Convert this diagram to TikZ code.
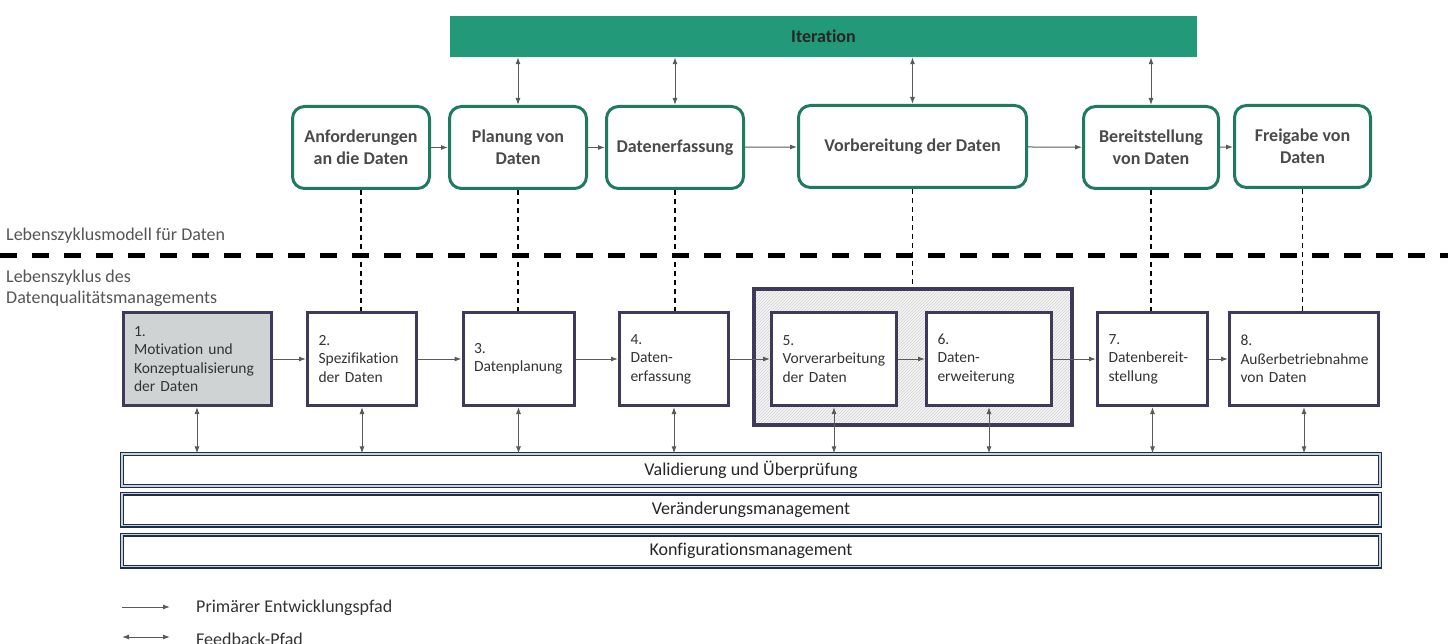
\documentclass[tikz,border=0pt]{standalone}
\usepackage{fontspec}
\setmainfont{Carlito}[Ligatures=NoCommon]
\usetikzlibrary{arrows.meta,patterns}

\definecolor{iterteal}{HTML}{229A79}
\definecolor{phasegreen}{HTML}{1F7A60}
\definecolor{phasetext}{HTML}{4A4A4A}
\definecolor{stagepurple}{HTML}{3F3A5C}
\definecolor{stagetext}{HTML}{333333}
\definecolor{stagegray}{HTML}{D0D3D4}
\definecolor{arrowgray}{HTML}{5A5A5A}
\definecolor{bandnavy}{HTML}{1F2E48}
\definecolor{bandlight}{HTML}{C9D1DC}
\definecolor{labelgray}{HTML}{555555}

\begin{document}
\begin{tikzpicture}[x=1pt,y=-1pt,
          phase/.style={rectangle, rounded corners=12pt, draw=phasegreen, line width=3pt,
            fill=white, text=phasetext, align=center, minimum height=82pt,
            font=\bfseries\fontsize{18}{22}\selectfont},
          stage/.style={rectangle, draw=stagepurple, line width=3pt, fill=white,
            text=stagetext, align=left, text width=#1, inner xsep=11pt, minimum height=93pt,
            font=\fontsize{15.5}{18.5}\selectfont,
            execute at begin node={\hyphenpenalty=10000\relax}},
          band/.style={rectangle, draw=bandnavy, line width=1.2pt, double=bandlight,
            double distance=1.6pt, fill=white, minimum width=1258pt, minimum height=32pt,
            text=black!85, font=\fontsize{18}{22}\selectfont},
          sidelabel/.style={anchor=west, inner sep=0pt, align=left, text=labelgray,
            font=\fontsize{18}{21}\selectfont},
          fwd/.style={draw=arrowgray, line width=1pt, -{Latex[length=7pt,width=5pt]}},
          fb/.style={draw=arrowgray, line width=1pt,
            {Latex[length=7pt,width=5pt]}-{Latex[length=7pt,width=5pt]}},
          link/.style={draw=black, line width=1.4pt, dash pattern=on 5pt off 4pt}]

        \useasboundingbox (0,0) rectangle (1448,644);
        \clip (0,0) rectangle (1448,644);

        % iteration bar and phases of the data life cycle model
        \node[rectangle, fill=iterteal, minimum width=747pt, minimum height=41pt,
          text=black!85, font=\bfseries\fontsize{18}{22}\selectfont] (iter) at (823.5,36.5) {Iteration};

        \node[phase, minimum width=137pt] (req)  at (361,147.5)   {Anforderungen\\an die Daten};
        \node[phase, minimum width=137pt] (plan) at (518,147.5)   {Planung von\\Daten};
        \node[phase, minimum width=137pt] (capt) at (675,147.5)   {Datenerfassung};
        \node[phase, minimum width=228pt] (prep) at (912.5,146.5) {Vorbereitung der Daten};
        \node[phase, minimum width=135pt] (prov) at (1151,147.5)  {Bereitstellung\\von Daten};
        \node[phase, minimum width=136pt] (rel)  at (1302.5,146.5) {Freigabe von\\Daten};

        \draw[fwd] (req)  -- (plan);
        \draw[fwd] (plan) -- (capt);
        \draw[fwd] (capt) -- (prep);
        \draw[fwd] (prep) -- (prov);
        \draw[fwd] (prov) -- (rel);

        \draw[fb] (plan.north |- iter.south) -- (plan.north);
        \draw[fb] (capt.north |- iter.south) -- (capt.north);
        \draw[fb] (prep.north |- iter.south) -- (prep.north);
        \draw[fb] (prov.north |- iter.south) -- (prov.north);

        % divider
        \node[sidelabel] (upper) at (6,236) {Lebenszyklusmodell für Daten};
        \draw[line width=5pt, dash pattern=on 17pt off 15pt] (0,256) -- (1448,256);
        \node[sidelabel] (lower) at (6,288) {Lebenszyklus des\\Datenqualitätsmanagements};

        % stages of the data quality management life cycle
        \node[rectangle, draw=stagepurple, line width=4pt, minimum width=318pt, minimum height=136pt,
          preaction={fill=gray!8}, pattern=north east lines, pattern color=gray!35] (grp) at (913,357) {};

        \node[stage=126pt, fill=stagegray] (s1) at (197,359)    {1.\\Motivation und\\Konzeptualisierung\\der Daten};
        \node[stage=87pt]  (s2) at (362,359)    {2.\\Spezifikation\\der Daten};
        \node[stage=89pt]  (s3) at (518.5,359)  {3.\\Datenplanung};
        \node[stage=87pt]  (s4) at (674,359)    {4.\\Daten-\\erfassung};
        \node[stage=103pt] (s5) at (834,359)    {5.\\Vorverarbeitung\\der Daten};
        \node[stage=103pt] (s6) at (989,359)    {6.\\Daten-\\erweiterung};
        \node[stage=88pt]  (s7) at (1152.5,359) {7.\\Datenbereit-\\stellung};
        \node[stage=127pt] (s8) at (1304,359)   {8.\\Außerbetriebnahme\\von Daten};

        \draw[fwd] (s1) -- (s2);
        \draw[fwd] (s2) -- (s3);
        \draw[fwd] (s3) -- (s4);
        \draw[fwd] (s4) -- (s5);
        \draw[fwd] (s5) -- (s6);
        \draw[fwd] (s6) -- (s7);
        \draw[fwd] (s7) -- (s8);

        \draw[link] (req.south)  -- (req.south |- s2.north);
        \draw[link] (plan.south) -- (plan.south |- s3.north);
        \draw[link] (capt.south) -- (capt.south |- s4.north);
        \draw[link] (prep.south) -- (prep.south |- grp.north);
        \draw[link] (prov.south) -- (prov.south |- s7.north);
        \draw[link] (rel.south)  -- (rel.south |- s8.north);

        % supporting processes
        \node[band] (val) at (751,470)   {Validierung und Überprüfung};
        \node[band] (chg) at (751,509.5) {Veränderungsmanagement};
        \node[band] (cfg) at (751,550.5) {Konfigurationsmanagement};

        \foreach \s in {s1,s2,s3,s4,s5,s6,s7,s8}
          \draw[fb] (\s.south) -- (\s.south |- val.north);

        % legend
        \coordinate (la) at (122,607);
        \coordinate (lb) at (170,607);
        \coordinate (lc) at (122,637);
        \coordinate (ld) at (170,637);
        \draw[fwd] (la) -- (lb);
        \draw[fb]  (lc) -- (ld);
        \node[sidelabel, text=black!80] (lt1) at (196,608) {Primärer Entwicklungspfad};
        \node[sidelabel, text=black!80] (lt2) at (196,639) {Feedback-Pfad};

      \end{tikzpicture}
\end{document}
